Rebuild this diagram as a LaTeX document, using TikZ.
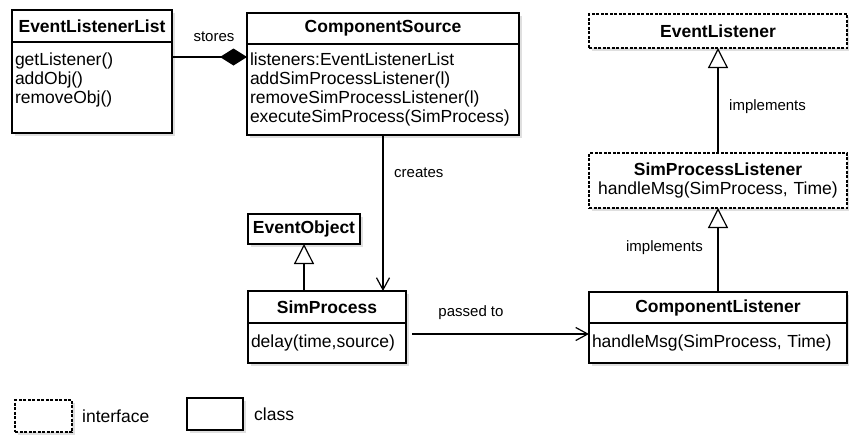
\documentclass[tikz,border=0pt]{standalone}
\usepackage{fontspec}
\setmainfont{Liberation Sans}
\usetikzlibrary{positioning,arrows.meta,shadows}
\newcommand{\umltext}{\fontsize{17.5}{19}\selectfont}
\newcommand{\umllabel}{\fontsize{15}{17}\selectfont}
\begin{document}
\begin{tikzpicture}[x=1pt,y=-1pt,
    box/.style={draw,line width=1.3pt,fill=white,outer sep=0pt,inner sep=0pt,font=\umltext,
      drop shadow={shadow xshift=2.5pt,shadow yshift=-2.5pt,fill=black!25}},
    head/.style={box,anchor=north west,font=\umltext\bfseries},
    body/.style={box,anchor=north west,align=left,inner xsep=3pt},
    iface/.style={dash pattern=on 3pt off 1.5pt,line width=1.6pt},
    conn/.style={line width=1.2pt},
    inherit/.style={conn,-{Triangle[open,length=20pt,width=20pt,fill=white]}},
    assoc/.style={conn,-{Straight Barb[length=12pt,width=13pt]}},
    compose/.style={conn,-{Diamond[length=27pt,width=17pt]}},
    tag/.style={font=\umllabel,inner sep=0pt}]
  \useasboundingbox (0,0) rectangle (849,434);
  \node[head,minimum width=160pt,minimum height=32pt] (listhead) at (12,10) {EventListenerList};
  \node[body,text width=154pt,minimum height=91pt] (listbody) at (listhead.south west) {getListener()\\addObj()\\removeObj()\\\mbox{}};
  \node[head,minimum width=272pt,minimum height=31pt] (srchead) at (247,13) {ComponentSource};
  \node[body,text width=266pt,minimum height=91pt] (srcbody) at (srchead.south west) {listeners:EventListenerList\\addSimProcessListener(l)\\removeSimProcessListener(l)\\executeSimProcess(SimProcess)};
  \node[head,iface,minimum width=258pt,minimum height=34pt] (evlist) at (589,14) {EventListener};
  \node[box,iface,anchor=north west,align=center,text width=252pt,inner xsep=3pt,minimum height=55pt] (splist) at (589,153) {\textbf{SimProcessListener}\\handleMsg(SimProcess, Time)};
  \node[head,minimum width=112pt,minimum height=30pt] (evobj) at (248,214) {EventObject};
  \node[head,minimum width=158pt,minimum height=32pt] (sphead) at (248,291) {SimProcess};
  \node[body,text width=152pt,minimum height=40pt] (spbody) at (sphead.south west) {delay(time,source)};
  \node[head,minimum width=258pt,minimum height=31pt] (clhead) at (589,292) {ComponentListener};
  \node[body,text width=252pt,minimum height=40pt] (clbody) at (clhead.south west) {handleMsg(SimProcess, Time)};
  \node[box,iface,anchor=north west,minimum width=57pt,minimum height=32pt] (legiface) at (15,400) {};
  \node[tag,font=\umltext,right=10pt of legiface] (legifacetag) {interface};
  \node[box,anchor=north west,minimum width=56pt,minimum height=32pt] (legclass) at (187,398) {};
  \node[tag,font=\umltext,right=11pt of legclass] (legclasstag) {class};
  \coordinate (storesend) at ([yshift=-15pt]listbody.north east);
  \coordinate (passstart) at ([yshift=9pt]spbody.east);
  \draw[compose] (storesend) -- (storesend -| srcbody.west);
  \draw[assoc] (srcbody.south) -- (srcbody.south |- sphead.north);
  \draw[inherit] (sphead.north -| evobj.south) -- (evobj.south);
  \draw[assoc,shorten <=6pt] (passstart) -- (passstart -| clbody.west);
  \draw[inherit] (splist.north) -- (evlist.south);
  \draw[inherit] (clhead.north) -- (splist.south);
  \node[tag] (storestag) at (214,37) {stores};
  \node[tag,anchor=west] (createstag) at (394,173) {creates};
  \node[tag] (passtag) at (471,313) {passed to};
  \node[tag,anchor=west] (impltag) at (729,107) {implements};
  \node[tag,anchor=east] (impltagb) at (703,248) {implements};
\end{tikzpicture}
\end{document}
